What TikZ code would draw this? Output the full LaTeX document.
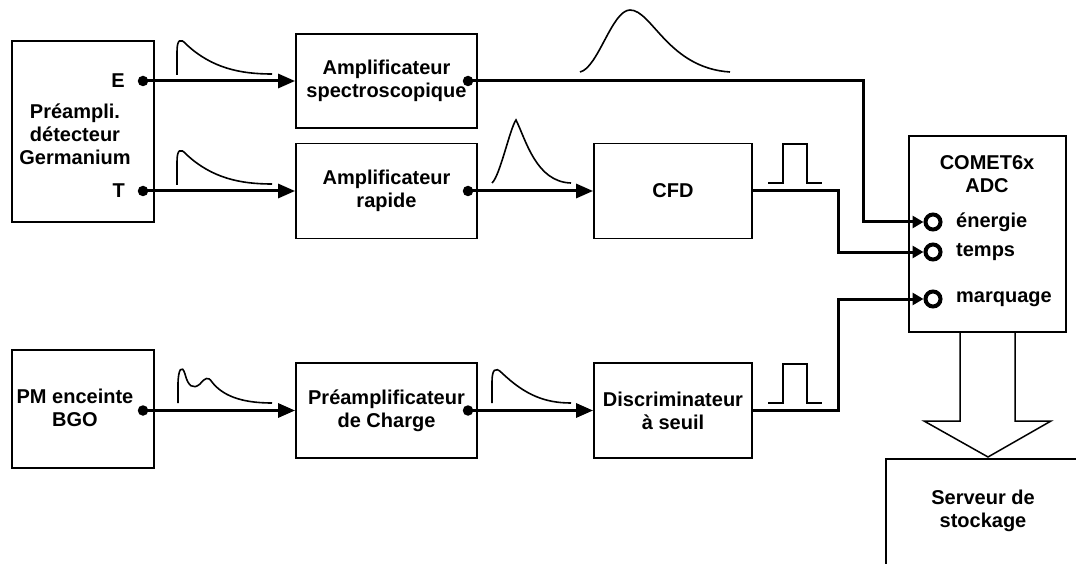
\documentclass[tikz,border=0pt]{standalone}
\usepackage{fontspec}
\setmainfont{Liberation Sans}
\usetikzlibrary{arrows.meta}
\newcommand{\lblfont}{\fontsize{20}{23}\selectfont\bfseries}
\begin{document}
\begin{tikzpicture}[x=1pt,y=-1pt,
  box/.style={draw, line width=1.8pt, rectangle, inner sep=0pt, align=center, font=\lblfont},
  txt/.style={inner sep=0pt, align=center, font=\lblfont},
  dot/.style={circle, fill, inner sep=0pt, minimum size=10.5pt},
  port/.style={circle, draw, line width=4pt, inner sep=0pt, minimum size=15pt},
  conn/.style={line width=3pt},
  arr/.style={conn, -{Triangle[length=17pt,width=14pt]}},
  parr/.style={conn, -{Triangle[length=11pt,width=12pt]}},
  pulse/.style={line width=1.6pt},
]
\useasboundingbox (0,0) rectangle (1076,564);
\clip (0,0) rectangle (1076,564);

% boxes
\node[box, minimum width=142pt, minimum height=181pt] (ge) at (83,131.5) {};
\node[txt] (getxt) at (75,134) {Préampli.\\détecteur\\Germanium};
\node[txt, anchor=east] (elbl) at (125,81) {E};
\node[txt, anchor=east] (tlbl) at (125,191) {T};
\node[box, minimum width=181pt, minimum height=94pt] (spec) at (386.5,81) {Amplificateur\\spectroscopique};
\node[box, minimum width=181pt, minimum height=95pt] (rap) at (386.5,191) {Amplificateur\\rapide};
\node[box, minimum width=158pt, minimum height=95pt] (cfd) at (673,191) {CFD};
\node[box, minimum width=142pt, minimum height=118pt] (pm) at (83,409) {};
\node[txt] (pmtxt) at (75,408) {PM enceinte\\BGO};
\node[box, minimum width=181pt, minimum height=95pt] (pch) at (386.5,410.5) {Préamplificateur\\de Charge};
\node[box, minimum width=158pt, minimum height=95pt] (disc) at (673,410.5) {Discriminateur\\à seuil};
\node[box, minimum width=157pt, minimum height=196pt] (adc) at (987.5,234) {};
\node[txt] (adctxt) at (987,174) {COMET6x\\ADC};
\node[box, minimum width=260pt, minimum height=200pt, anchor=north west] (srv) at (885,458) {};
\node[txt] (srvtxt) at (983,511) {Serveur de\\stockage};

% dots
\node[dot] (eout) at (143,81) {};
\node[dot] (tout) at (143,191) {};
\node[dot] (specout) at (468,81) {};
\node[dot] (rapout) at (468,191) {};
\node[dot] (pmout) at (143,410.5) {};
\node[dot] (pchout) at (468,410.5) {};

% ADC ports
\node[port] (pe) at (933,222) {};
\node[port] (pt) at (933,252) {};
\node[port] (pmq) at (933,299) {};
\node[txt, anchor=west] (le) at (956,222) {énergie};
\node[txt, anchor=west] (lt) at (956,252) {temps};
\node[txt, anchor=west] (lm) at (956,299) {marquage};

% connectors
\draw[arr] (eout.center) -- (spec.west);
\draw[arr] (tout.center) -- (rap.west);
\draw[arr] (rapout.center) -- (cfd.west);
\draw[arr] (pmout.center) -- (pch.west);
\draw[arr] (pchout.center) -- (disc.west);
\coordinate (c1) at (863,81);
\coordinate (c2) at (838,191);
\coordinate (c3) at (838,410.5);
\draw[parr] (specout.center) -- (c1) |- (pe.west);
\draw[parr] (cfd.east) -- (c2) |- (pt.west);
\draw[parr] (disc.east) -- (c3) |- (pmq.west);

% big arrow ADC -> server
\draw[line width=1.5pt, line join=miter] (960,332) -- (960,421) -- (924,421) -- (988,457) -- (1051,421) -- (1015,421) -- (1015,332);

% pulses
\draw[pulse] (177,75) -- (177,52) .. controls (177,40) and (180,37) .. (187,45) .. controls (212,68) and (240,74) .. (272,74);
\draw[pulse] (177,185) -- (177,162) .. controls (177,150) and (180,147) .. (187,155) .. controls (212,178) and (240,184) .. (272,184);
\draw[pulse] (580,72) .. controls (598,68) and (612,10) .. (630,10) .. controls (652,10) and (668,68) .. (730,72);
\draw[pulse] (492,183) .. controls (500,176) and (510,128) .. (516,120) .. controls (526,140) and (536,182) .. (571,183);
\draw[pulse] (768,183) -- (783,183) -- (783,144) -- (807,144) -- (807,183) -- (822,183);
\draw[pulse] (768,403) -- (783,403) -- (783,364) -- (807,364) -- (807,403) -- (822,403);
\draw[pulse] (178,403) -- (178,385) .. controls (178,369) and (182,364) .. (185,374) .. controls (188,386) and (193,390) .. (200,384) .. controls (205,378) and (208,376) .. (212,382) .. controls (222,395) and (240,403) .. (272,403);
\draw[pulse] (492,403) -- (492,382) .. controls (492,370) and (495,366) .. (502,373) .. controls (525,395) and (545,403) .. (571,403);
\end{tikzpicture}
\end{document}
